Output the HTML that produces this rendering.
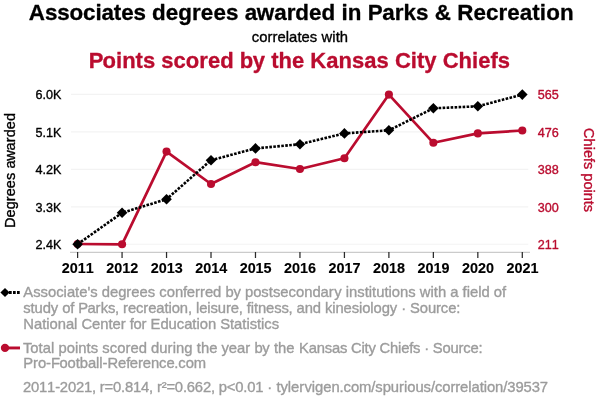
<!DOCTYPE html>
<html><head><meta charset="utf-8"><title>Associates degrees awarded in Parks &amp; Recreation correlates with Points scored by the Kansas City Chiefs</title><style>html,body{margin:0;padding:0;background:#fff}svg{display:block}text{font-kerning:none;font-variant-ligatures:none}</style></head><body>
<svg width="600" height="408" viewBox="0 0 600 408" font-family="'Liberation Sans', sans-serif">
<rect width="600" height="408" fill="#fff"/>
<g id="plot">
<line x1="71" x2="528.3" y1="94.35" y2="94.35" stroke="#f3f3f3" stroke-width="1.15"/>
<line x1="71" x2="528.3" y1="131.85" y2="131.85" stroke="#f3f3f3" stroke-width="1.15"/>
<line x1="71" x2="528.3" y1="169.35" y2="169.35" stroke="#f3f3f3" stroke-width="1.15"/>
<line x1="71" x2="528.3" y1="206.85" y2="206.85" stroke="#f3f3f3" stroke-width="1.15"/>
<line x1="71" x2="528.3" y1="244.25" y2="244.25" stroke="#f3f3f3" stroke-width="1.15"/>
<line x1="70" x2="530" y1="252.3" y2="252.3" stroke="#bebebe" stroke-width="1"/>
<line x1="77.60" x2="77.60" y1="252" y2="258" stroke="#2a2a2a" stroke-width="1.25"/>
<line x1="122.07" x2="122.07" y1="252" y2="258" stroke="#2a2a2a" stroke-width="1.25"/>
<line x1="166.54" x2="166.54" y1="252" y2="258" stroke="#2a2a2a" stroke-width="1.25"/>
<line x1="211.01" x2="211.01" y1="252" y2="258" stroke="#2a2a2a" stroke-width="1.25"/>
<line x1="255.48" x2="255.48" y1="252" y2="258" stroke="#2a2a2a" stroke-width="1.25"/>
<line x1="299.95" x2="299.95" y1="252" y2="258" stroke="#2a2a2a" stroke-width="1.25"/>
<line x1="344.42" x2="344.42" y1="252" y2="258" stroke="#2a2a2a" stroke-width="1.25"/>
<line x1="388.89" x2="388.89" y1="252" y2="258" stroke="#2a2a2a" stroke-width="1.25"/>
<line x1="433.36" x2="433.36" y1="252" y2="258" stroke="#2a2a2a" stroke-width="1.25"/>
<line x1="477.83" x2="477.83" y1="252" y2="258" stroke="#2a2a2a" stroke-width="1.25"/>
<line x1="522.30" x2="522.30" y1="252" y2="258" stroke="#2a2a2a" stroke-width="1.25"/>
<polyline points="77.60,244 122.07,244.3 166.54,151.6 211.01,184 255.48,162.2 299.95,169 344.42,158.2 388.89,94.6 433.36,142.8 477.83,133.4 522.30,130.5" fill="none" stroke="#ba0c2f" stroke-width="2.7" stroke-linejoin="round"/>
<circle cx="77.60" cy="244" r="4.05" fill="#ba0c2f"/>
<circle cx="122.07" cy="244.3" r="4.05" fill="#ba0c2f"/>
<circle cx="166.54" cy="151.6" r="4.05" fill="#ba0c2f"/>
<circle cx="211.01" cy="184" r="4.05" fill="#ba0c2f"/>
<circle cx="255.48" cy="162.2" r="4.05" fill="#ba0c2f"/>
<circle cx="299.95" cy="169" r="4.05" fill="#ba0c2f"/>
<circle cx="344.42" cy="158.2" r="4.05" fill="#ba0c2f"/>
<circle cx="388.89" cy="94.6" r="4.05" fill="#ba0c2f"/>
<circle cx="433.36" cy="142.8" r="4.05" fill="#ba0c2f"/>
<circle cx="477.83" cy="133.4" r="4.05" fill="#ba0c2f"/>
<circle cx="522.30" cy="130.5" r="4.05" fill="#ba0c2f"/>
<polyline points="77.60,244.2 122.07,212.8 166.54,199.2 211.01,160.2 255.48,148.4 299.95,144.2 344.42,133.4 388.89,130.3 433.36,108.3 477.83,106.3 522.30,94.6" fill="none" stroke="#000" stroke-width="2.6" stroke-dasharray="2.6,1.4" stroke-linejoin="round"/>
<path d="M72.30,244.2 L77.60,238.89999999999998 L82.90,244.2 L77.60,249.5Z" fill="#000"/>
<path d="M116.77,212.8 L122.07,207.5 L127.37,212.8 L122.07,218.10000000000002Z" fill="#000"/>
<path d="M161.24,199.2 L166.54,193.89999999999998 L171.84,199.2 L166.54,204.5Z" fill="#000"/>
<path d="M205.71,160.2 L211.01,154.89999999999998 L216.31,160.2 L211.01,165.5Z" fill="#000"/>
<path d="M250.18,148.4 L255.48,143.1 L260.78,148.4 L255.48,153.70000000000002Z" fill="#000"/>
<path d="M294.65,144.2 L299.95,138.89999999999998 L305.25,144.2 L299.95,149.5Z" fill="#000"/>
<path d="M339.12,133.4 L344.42,128.1 L349.72,133.4 L344.42,138.70000000000002Z" fill="#000"/>
<path d="M383.59,130.3 L388.89,125.00000000000001 L394.19,130.3 L388.89,135.60000000000002Z" fill="#000"/>
<path d="M428.06,108.3 L433.36,103.0 L438.66,108.3 L433.36,113.6Z" fill="#000"/>
<path d="M472.53,106.3 L477.83,101.0 L483.13,106.3 L477.83,111.6Z" fill="#000"/>
<path d="M517.00,94.6 L522.30,89.3 L527.60,94.6 L522.30,99.89999999999999Z" fill="#000"/>
<line x1="5" x2="20" y1="292.45" y2="292.45" stroke="#000" stroke-width="2.9" stroke-dasharray="2.7,1.3"/>
<path d="M0.40000000000000036,292.5 L5,287.9 L9.6,292.5 L5,297.1Z" fill="#000"/>
<line x1="5" x2="20" y1="347.95" y2="347.95" stroke="#ba0c2f" stroke-width="2.9"/>
<circle cx="5" cy="347.9" r="4.15" fill="#ba0c2f"/>
</g>
<text id="title1" font-size="22.4" fill="#000" font-weight="bold" textLength="117.10" lengthAdjust="spacing" stroke="#000" stroke-width="0.3" stroke-linejoin="round" transform="translate(28.85,19.50)">Associates</text>
<text id="title2" font-size="22.4" fill="#000" font-weight="bold" textLength="421.49" lengthAdjust="spacing" dx="0 0 0 0 0 0 0 0 0 -0.34 0 0 -0.45 0 0 0 0 0 0 0 -0.67 0 0 0 0 0 0 0 0 0 0 0 0 0 0 0 0" stroke="#000" stroke-width="0.3" stroke-linejoin="round" transform="translate(152.10,19.50)">degrees awarded in Parks &amp; Recreation</text>
<text id="corr" font-size="14.8" fill="#000" textLength="96.36" lengthAdjust="spacing" stroke="#000" stroke-width="0.35" stroke-linejoin="round" transform="translate(251.70,41.80)">correlates with</text>
<text id="rtitle" font-size="22.0" fill="#ba0c2f" font-weight="bold" textLength="421.23" lengthAdjust="spacing" dx="0 -0.88 0 0 0 0 0 0 0 0 0 0 0 0 0 -0.44 0 0 0 0 0 0 0 0 0 0 0 0 0 0 0 0 0 0 0 0 0 0 0" stroke="#ba0c2f" stroke-width="0.3" stroke-linejoin="round" transform="translate(88.75,67.80)">Points scored by the Kansas City Chiefs</text>
<text id="l1a" font-size="14.8" fill="#9c9c9c" textLength="482.92" lengthAdjust="spacing" dx="0 0 0 0 0 0 0 0 0 0 0 0 0 0 0 -0.15 0 0 0 0 0 0 0 0 -0.44 0 0 0 0 0 0 -0.3 0 0 0 0 0 0 0 0 0 0 0 0 0 0.44 0 0 0 0 0 0 0 0 0 0 0 0 0 0 0 0 0 0 0 0 0 0 0 0 0 0 0 0 0" stroke="#9c9c9c" stroke-width="0.35" stroke-linejoin="round" transform="translate(23.30,296.75)">Associate's degrees conferred by postsecondary institutions with a field of</text>
<text id="l1b" font-size="14.8" fill="#9c9c9c" textLength="437.15" lengthAdjust="spacing" dx="0 0 0 0 0 0 0 0 0 0 -0.59 0 0.22 0 -0.22 0 0 0 0 0 0 0 0 0 0 0 0 0 0 0 0 0 0 0 0 -0.22 0 0 0 0 0 0 0 0 -0.22 0 0 0 0 0 0 0 0 0 0 0 0 0 0 0 0 0 0 0 0 0 0 0 0 0 0" stroke="#9c9c9c" stroke-width="0.35" stroke-linejoin="round" transform="translate(23.25,312.65)">study of Parks, recreation, leisure, fitness, and kinesiology · Source:</text>
<text id="l1c" font-size="14.8" fill="#9c9c9c" textLength="255.84" lengthAdjust="spacing" dx="0 0 0 0 0 0 0 0 0 0 0 0 0 0 0 0 0 -0.44 0 0 0 0 0 0 0 0 0 0 0 0 0 0 0 0 0 0 0 0 0 0" stroke="#9c9c9c" stroke-width="0.35" stroke-linejoin="round" transform="translate(23.30,328.55)">National Center for Education Statistics</text>
<text id="l2a1" font-size="14.8" fill="#9c9c9c" textLength="271.52" lengthAdjust="spacing" dx="0 -1.78 0 0 0 0 0 0 0 0 0 0 0 0 0 0 0 0 0 0 0 0 0 0.22 0 0 0 0 0 0 0 0 -0.3 0 0 0 0 -0.3 0 0 0 0" stroke="#9c9c9c" stroke-width="0.35" stroke-linejoin="round" transform="translate(23.05,352.55)">Total points scored during the year by the</text>
<text id="l2a2" font-size="14.8" fill="#9c9c9c" textLength="183.59" lengthAdjust="spacing" stroke="#9c9c9c" stroke-width="0.35" stroke-linejoin="round" transform="translate(299.00,352.55)">Kansas City Chiefs · Source:</text>
<text id="l2b" font-size="14.8" fill="#9c9c9c" textLength="182.86" lengthAdjust="spacing" dx="0 0 0 0 0 -0.44 0 0 0 0 0 0 0 0 0 0 -0.44 0 0 0 0 0 -0.22 0 0 0" stroke="#9c9c9c" stroke-width="0.35" stroke-linejoin="round" transform="translate(23.30,368.45)">Pro-Football-Reference.com</text>
<text id="foot1" font-size="14.8" fill="#9c9c9c" textLength="249.13" lengthAdjust="spacing" stroke="#9c9c9c" stroke-width="0.35" stroke-linejoin="round" transform="translate(23.00,391.65)">2011-2021, r=0.814, r²=0.662, p&lt;0.01 ·</text>
<text id="foot2" font-size="14.8" fill="#9c9c9c" textLength="271.59" lengthAdjust="spacing" dx="0 0 0 0 0 0.44 0 0 0 0 0 0 0 0 0 0 0 0 0 0.22 0 0 0 0 0 0 0 0 0 0 0 0 0 0 0 0 0 0 0 0 0" stroke="#9c9c9c" stroke-width="0.35" stroke-linejoin="round" transform="translate(276.50,391.65)">tylervigen.com/spurious/correlation/39537</text>
<text id="yl0" font-size="12.6" fill="#000" text-anchor="end" stroke="#000" stroke-width="0.35" stroke-linejoin="round" transform="translate(61.45,99.00) scale(1,1.02)">6.0K</text>
<text id="yl1" font-size="12.6" fill="#000" text-anchor="end" stroke="#000" stroke-width="0.35" stroke-linejoin="round" transform="translate(61.45,137.00) scale(1,1.02)">5.1K</text>
<text id="yl2" font-size="12.6" fill="#000" text-anchor="end" stroke="#000" stroke-width="0.35" stroke-linejoin="round" transform="translate(61.45,174.00) scale(1,1.02)">4.2K</text>
<text id="yl3" font-size="12.6" fill="#000" text-anchor="end" stroke="#000" stroke-width="0.35" stroke-linejoin="round" transform="translate(61.45,212.00) scale(1,1.02)">3.3K</text>
<text id="yl4" font-size="12.6" fill="#000" text-anchor="end" stroke="#000" stroke-width="0.35" stroke-linejoin="round" transform="translate(61.45,249.00) scale(1,1.02)">2.4K</text>
<text id="yr0" font-size="12.6" fill="#ba0c2f" text-anchor="start" stroke="#ba0c2f" stroke-width="0.35" stroke-linejoin="round" transform="translate(537.70,99.00) scale(1,1.02)">565</text>
<text id="yr1" font-size="12.6" fill="#ba0c2f" text-anchor="start" stroke="#ba0c2f" stroke-width="0.35" stroke-linejoin="round" transform="translate(537.70,137.00) scale(1,1.02)">476</text>
<text id="yr2" font-size="12.6" fill="#ba0c2f" text-anchor="start" stroke="#ba0c2f" stroke-width="0.35" stroke-linejoin="round" transform="translate(537.70,174.00) scale(1,1.02)">388</text>
<text id="yr3" font-size="12.6" fill="#ba0c2f" text-anchor="start" stroke="#ba0c2f" stroke-width="0.35" stroke-linejoin="round" transform="translate(537.70,212.00) scale(1,1.02)">300</text>
<text id="yr4" font-size="12.6" fill="#ba0c2f" text-anchor="start" stroke="#ba0c2f" stroke-width="0.35" stroke-linejoin="round" transform="translate(537.70,249.00) scale(1,1.02)">211</text>
<text id="xt0" font-size="14.4" fill="#000" font-weight="bold" text-anchor="middle" stroke="#000" stroke-width="0.12" stroke-linejoin="round" transform="translate(77.75,272.70) scale(1,1.08)">2011</text>
<text id="xt1" font-size="14.4" fill="#000" font-weight="bold" text-anchor="middle" stroke="#000" stroke-width="0.12" stroke-linejoin="round" transform="translate(122.22,272.70) scale(1,1.08)">2012</text>
<text id="xt2" font-size="14.4" fill="#000" font-weight="bold" text-anchor="middle" stroke="#000" stroke-width="0.12" stroke-linejoin="round" transform="translate(166.69,272.70) scale(1,1.08)">2013</text>
<text id="xt3" font-size="14.4" fill="#000" font-weight="bold" text-anchor="middle" stroke="#000" stroke-width="0.12" stroke-linejoin="round" transform="translate(211.16,272.70) scale(1,1.08)">2014</text>
<text id="xt4" font-size="14.4" fill="#000" font-weight="bold" text-anchor="middle" stroke="#000" stroke-width="0.12" stroke-linejoin="round" transform="translate(255.63,272.70) scale(1,1.08)">2015</text>
<text id="xt5" font-size="14.4" fill="#000" font-weight="bold" text-anchor="middle" stroke="#000" stroke-width="0.12" stroke-linejoin="round" transform="translate(300.10,272.70) scale(1,1.08)">2016</text>
<text id="xt6" font-size="14.4" fill="#000" font-weight="bold" text-anchor="middle" stroke="#000" stroke-width="0.12" stroke-linejoin="round" transform="translate(344.57,272.70) scale(1,1.08)">2017</text>
<text id="xt7" font-size="14.4" fill="#000" font-weight="bold" text-anchor="middle" stroke="#000" stroke-width="0.12" stroke-linejoin="round" transform="translate(389.04,272.70) scale(1,1.08)">2018</text>
<text id="xt8" font-size="14.4" fill="#000" font-weight="bold" text-anchor="middle" stroke="#000" stroke-width="0.12" stroke-linejoin="round" transform="translate(433.51,272.70) scale(1,1.08)">2019</text>
<text id="xt9" font-size="14.4" fill="#000" font-weight="bold" text-anchor="middle" stroke="#000" stroke-width="0.12" stroke-linejoin="round" transform="translate(477.98,272.70) scale(1,1.08)">2020</text>
<text id="xt10" font-size="14.4" fill="#000" font-weight="bold" text-anchor="middle" stroke="#000" stroke-width="0.12" stroke-linejoin="round" transform="translate(522.45,272.70) scale(1,1.08)">2021</text>
<text id="ylab" font-size="14.5" fill="#000" textLength="115.07" lengthAdjust="spacing" dx="0 0 0 -0.14 0 0 0 0 0 -0.29 -0.22 0 0 0 0" stroke="#000" stroke-width="0.35" stroke-linejoin="round" transform="translate(15.00,228.00) rotate(-90)">Degrees awarded</text>
<text id="yrlab" font-size="14.5" fill="#ba0c2f" textLength="84.03" lengthAdjust="spacing" stroke="#ba0c2f" stroke-width="0.35" stroke-linejoin="round" transform="translate(584.20,128.10) rotate(90)">Chiefs points</text>
</svg>
</body></html>
